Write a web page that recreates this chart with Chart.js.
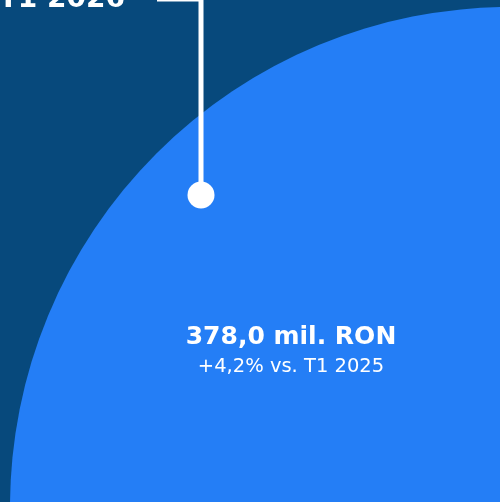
<!DOCTYPE html>
<html>
<head>
<meta charset="utf-8">
<script src="https://cdn.jsdelivr.net/npm/chart.js@4/dist/chart.umd.min.js"></script>
<style>
  html, body { margin: 0; padding: 0; background: #07497c; }
  #wrap { width: 500px; height: 502px; }
</style>
</head>
<body>
<div id="wrap"><canvas id="c" width="500" height="502"></canvas></div>
<script>
// ---- data ----
const periods = ['T1 2026'];
const values = [378.0];            // mil. RON
const changes = [4.2];             // % vs previous year
const compareLabels = ['T1 2025'];
// bubble position in plot units (plot spans 0..500 x 0..502)
const bubbleX = [510];
const bubbleY = [507];
// callout anchor in plot units
const anchorX = [201];
const anchorY = [195];
const labelX = [291];
const labelY = [344];

const BG = '#07497c';
const BUBBLE = '#247ef6';
const RADIUS_K = 500 / Math.sqrt(378.0);

const fmt = v => v.toFixed(1).replace('.', ',');

const calloutPlugin = {
  id: 'callout',
  beforeDraw(chart) {
    const ctx = chart.ctx;
    ctx.save();
    ctx.fillStyle = BG;
    ctx.fillRect(0, 0, chart.width, chart.height);
    ctx.restore();
  },
  afterDatasetsDraw(chart) {
    const ctx = chart.ctx;
    const xs = chart.scales.x, ys = chart.scales.y;
    ctx.save();
    periods.forEach((p, i) => {
      const ax = xs.getPixelForValue(anchorX[i]);
      const ay = ys.getPixelForValue(anchorY[i]);
      // leader line
      ctx.strokeStyle = '#ffffff';
      ctx.lineWidth = 5;
      ctx.lineJoin = 'miter';
      ctx.beginPath();
      ctx.moveTo(157, -1);
      ctx.lineTo(ax, -1);
      ctx.lineTo(ax, ay);
      ctx.stroke();
      // dot
      ctx.fillStyle = '#ffffff';
      ctx.beginPath();
      ctx.arc(ax, ay, 13.5, 0, Math.PI * 2);
      ctx.fill();
      // period label (mostly off the top)
      ctx.font = 'bold 28px "DejaVu Sans"';
      ctx.textAlign = 'right';
      ctx.textBaseline = 'alphabetic';
      ctx.fillText(p, 125, 7);
      // value label
      const lx = xs.getPixelForValue(labelX[i]);
      const ly = ys.getPixelForValue(labelY[i]);
      ctx.textAlign = 'center';
      ctx.font = 'bold 25px "DejaVu Sans"';
      ctx.fillText(fmt(values[i]) + ' mil. RON', lx, ly);
      ctx.font = '19.5px "DejaVu Sans"';
      ctx.fillText('+' + fmt(changes[i]) + '% vs. ' + compareLabels[i], lx, ly + 28);
    });
    ctx.restore();
  }
};

new Chart(document.getElementById('c'), {
  type: 'bubble',
  data: {
    datasets: [{
      label: periods[0],
      data: periods.map((p, i) => ({ x: bubbleX[i], y: bubbleY[i], r: Math.sqrt(values[i]) * RADIUS_K })),
      backgroundColor: BUBBLE,
      borderWidth: 0,
      hoverBorderWidth: 0,
      clip: false
    }]
  },
  options: {
    responsive: false,
    devicePixelRatio: 1,
    animation: false,
    events: [],
    layout: { padding: 0, autoPadding: false },
    plugins: { legend: { display: false }, tooltip: { enabled: false } },
    scales: {
      x: { type: 'linear', min: 0, max: 500, display: false },
      y: { type: 'linear', min: 0, max: 502, reverse: true, display: false }
    }
  },
  plugins: [calloutPlugin]
});
</script>
</body>
</html>
